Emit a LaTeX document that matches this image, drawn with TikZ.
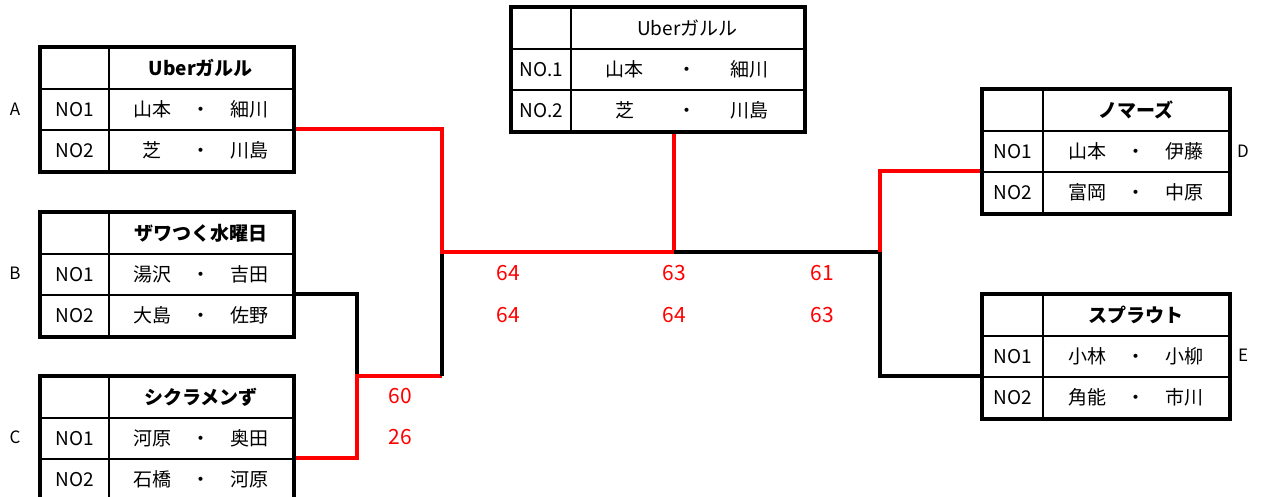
\documentclass[tikz,border=0pt]{standalone}
\usepackage{fontspec}
\setmainfont{Noto Sans CJK JP}
\newcommand{\duo}[3][19pt]{\makebox[40pt]{#2}\hspace{#1}・\hspace{#1}\makebox[40pt]{#3}}

\begin{document}
\begin{tikzpicture}[
    x=1pt, y=-1pt,
    cellbox/.style={rectangle, draw=black, line width=1.8pt, minimum height=41pt, inner sep=0pt, anchor=north west, text centered, font=\fontsize{19}{22}\selectfont},
    frame/.style={draw=black, line width=3.6pt},
    win/.style={draw=red, line width=3.2pt},
    lose/.style={draw=black, line width=3.2pt},
    score/.style={text=red, font=\fontsize{21}{25}\selectfont},
    tag/.style={font=\fontsize{17}{20}\selectfont}
]
\useasboundingbox (0,0) rectangle (1261,496);

% Team A
\node[cellbox, minimum width=68pt] (A0) at (40,47) {};
\node[cellbox, minimum width=184pt] (A0n) at (108,47) {\bfseries Uberガルル};
\node[cellbox, minimum width=68pt] (A1) at (40,88) {NO1};
\node[cellbox, minimum width=184pt] (A1n) at (108,88) {\duo{山本}{細川}};
\node[cellbox, minimum width=68pt] (A2) at (40,129) {NO2};
\node[cellbox, minimum width=184pt] (A2n) at (108,129) {\duo{芝}{川島}};
\node[tag] (labA) at (15,109) {A};

% Team B
\node[cellbox, minimum width=68pt] (B0) at (40,212) {};
\node[cellbox, minimum width=184pt] (B0n) at (108,212) {\bfseries ザワつく水曜日};
\node[cellbox, minimum width=68pt] (B1) at (40,253) {NO1};
\node[cellbox, minimum width=184pt] (B1n) at (108,253) {\duo{湯沢}{吉田}};
\node[cellbox, minimum width=68pt] (B2) at (40,294) {NO2};
\node[cellbox, minimum width=184pt] (B2n) at (108,294) {\duo{大島}{佐野}};
\node[tag] (labB) at (15,273) {B};

% Team C
\node[cellbox, minimum width=68pt] (C0) at (40,376) {};
\node[cellbox, minimum width=184pt] (C0n) at (108,376) {\bfseries シクラメンず};
\node[cellbox, minimum width=68pt] (C1) at (40,417) {NO1};
\node[cellbox, minimum width=184pt] (C1n) at (108,417) {\duo{河原}{奥田}};
\node[cellbox, minimum width=68pt] (C2) at (40,458) {NO2};
\node[cellbox, minimum width=184pt] (C2n) at (108,458) {\duo{石橋}{河原}};
\node[tag] (labC) at (15,437) {C};

% Team D
\node[cellbox, minimum width=60pt] (D0) at (982,89) {};
\node[cellbox, minimum width=186pt] (D0n) at (1042,89) {\bfseries ノマーズ};
\node[cellbox, minimum width=60pt] (D1) at (982,130) {NO1};
\node[cellbox, minimum width=186pt] (D1n) at (1042,130) {\duo{山本}{伊藤}};
\node[cellbox, minimum width=60pt] (D2) at (982,171) {NO2};
\node[cellbox, minimum width=186pt] (D2n) at (1042,171) {\duo{富岡}{中原}};
\node[tag] (labD) at (1243,151) {D};

% Team E
\node[cellbox, minimum width=60pt] (E0) at (982,294) {};
\node[cellbox, minimum width=186pt] (E0n) at (1042,294) {\bfseries スプラウト};
\node[cellbox, minimum width=60pt] (E1) at (982,335) {NO1};
\node[cellbox, minimum width=186pt] (E1n) at (1042,335) {\duo{小林}{小柳}};
\node[cellbox, minimum width=60pt] (E2) at (982,376) {NO2};
\node[cellbox, minimum width=186pt] (E2n) at (1042,376) {\duo{角能}{市川}};
\node[tag] (labE) at (1243,355) {E};

% Winner
\node[cellbox, minimum width=59pt] (F0) at (511,7) {};
\node[cellbox, minimum width=233pt] (F0n) at (570,7) {Uberガルル};
\node[cellbox, minimum width=59pt] (F1) at (511,48) {NO.1};
\node[cellbox, minimum width=233pt] (F1n) at (570,48) {\duo[33pt]{山本}{細川}};
\node[cellbox, minimum width=59pt] (F2) at (511,89) {NO.2};
\node[cellbox, minimum width=233pt] (F2n) at (570,89) {\duo[33pt]{芝}{川島}};

% Bracket
\coordinate (jL) at (442,252);
\coordinate (jC) at (674,252);
\coordinate (jR) at (880,252);
\coordinate (jBC) at (357,376);
\draw[lose] (B2n.north east) -| (jBC);
\draw[win] (C2n.north east) -| (jBC) -- (jBC -| jL);
\draw[lose] (jBC -| jL) -- (jL);
\draw[win] (A2n.north east) -| (jL) -- (jC) -- (jC |- F2n.south);
\draw[lose] (jC) -- (jR) |- (E2.north west);
\draw[win] (jR) |- (D2.north west);

% Scores
\node[score] (s1) at (508,273) {64};
\node[score] (s2) at (674,273) {63};
\node[score] (s3) at (822,273) {61};
\node[score] (s4) at (508,315) {64};
\node[score] (s5) at (674,315) {64};
\node[score] (s6) at (822,315) {63};
\node[score] (s7) at (400,396) {60};
\node[score] (s8) at (400,437) {26};

% Outer frames
\draw[frame] (A0.north west) rectangle (A2n.south east);
\draw[frame] (B0.north west) rectangle (B2n.south east);
\draw[frame] (C0.north west) rectangle (C2n.south east);
\draw[frame] (D0.north west) rectangle (D2n.south east);
\draw[frame] (E0.north west) rectangle (E2n.south east);
\draw[frame] (F0.north west) rectangle (F2n.south east);

\end{tikzpicture}
\end{document}
